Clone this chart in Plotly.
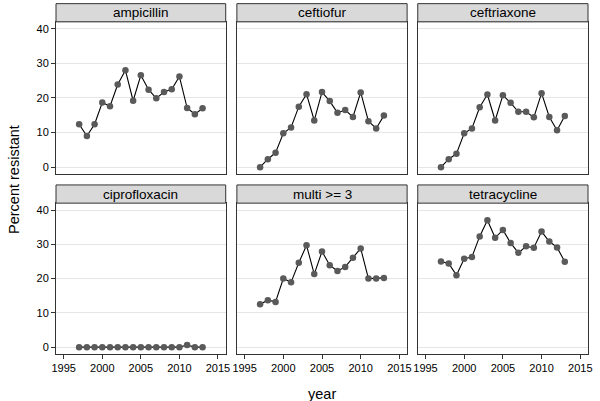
import plotly.graph_objects as go

years = list(range(1997, 2014))

ampicillin = [12.4, 9.0, 12.4, 18.7, 17.6, 23.9, 28.0, 19.2, 26.6, 22.4, 19.9, 21.7, 22.5, 26.2, 17.1, 15.3, 17.0]
ceftiofur = [0.0, 2.3, 4.2, 9.8, 11.5, 17.5, 21.1, 13.5, 21.7, 19.1, 15.7, 16.5, 14.5, 21.6, 13.3, 11.2, 14.9]
ceftriaxone = [0.0, 2.3, 3.9, 9.8, 11.2, 17.3, 21.0, 13.5, 20.8, 18.6, 16.0, 16.0, 14.4, 21.4, 14.5, 10.7, 14.8]
ciprofloxacin = [0.0, 0.0, 0.0, 0.0, 0.0, 0.0, 0.0, 0.0, 0.0, 0.0, 0.0, 0.0, 0.0, 0.0, 0.6, 0.0, 0.0]
multi3 = [12.5, 13.7, 13.2, 20.0, 18.9, 24.6, 29.7, 21.3, 27.9, 23.9, 22.2, 23.4, 26.1, 28.8, 20.0, 20.0, 20.2]
tetracycline = [25.0, 24.4, 21.0, 25.8, 26.3, 32.3, 37.0, 31.9, 34.2, 30.4, 27.5, 29.4, 29.0, 33.7, 30.8, 29.1, 24.9]

panel_names = ["ampicillin", "ceftiofur", "ceftriaxone", "ciprofloxacin", "multi >= 3", "tetracycline"]
panel_values = [ampicillin, ceftiofur, ceftriaxone, ciprofloxacin, multi3, tetracycline]

x_ticks = [1995, 2000, 2005, 2010, 2015]
y_ticks = [0, 10, 20, 30, 40]

# panel positions in paper coords (facet_wrap-like 2x3 grid)
col_domains = [[0.0, 0.319], [0.340, 0.660], [0.680, 1.0]]
row_domains = [[0.514, 0.949], [0.0, 0.431]]
strip_h = 0.052

fig = go.Figure()
layout = {}
shapes = []
annotations = []

for i, (name, vals) in enumerate(zip(panel_names, panel_values)):
    r, c = divmod(i, 3)
    n = i + 1
    xa = "x" if n == 1 else f"x{n}"
    ya = "y" if n == 1 else f"y{n}"
    fig.add_trace(go.Scatter(
        x=years, y=vals, xaxis=xa, yaxis=ya,
        mode="lines+markers",
        line=dict(color="black", width=1.1),
        marker=dict(color="#5a5a5a", size=6.5),
        showlegend=False,
    ))
    common = dict(showline=True, mirror=True, linecolor="#333333", linewidth=1,
                  ticklen=4, tickcolor="#333333", zeroline=False,
                  tickfont=dict(family="Liberation Sans, Arial", size=11, color="black"))
    layout[f"xaxis{'' if n == 1 else n}"] = dict(
        domain=col_domains[c], anchor=ya, range=[1994, 2016],
        tickvals=x_ticks, showgrid=False,
        showticklabels=(r == 1), ticks="outside" if r == 1 else "",
        **common)
    layout[f"yaxis{'' if n == 1 else n}"] = dict(
        domain=row_domains[r], anchor=xa, range=[-2, 42],
        tickvals=y_ticks, showgrid=True, gridcolor="#e6e6e6", gridwidth=1,
        showticklabels=(c == 0), ticks="outside" if c == 0 else "",
        **common)
    # facet strip
    y0 = row_domains[r][1]
    shapes.append(dict(type="rect", xref="paper", yref="paper",
                       x0=col_domains[c][0], x1=col_domains[c][1],
                       y0=y0, y1=y0 + strip_h,
                       fillcolor="#d9d9d9", line=dict(color="#333333", width=1)))
    annotations.append(dict(text=name, xref="paper", yref="paper",
                            x=sum(col_domains[c]) / 2, y=y0 + strip_h / 2,
                            showarrow=False, xanchor="center", yanchor="middle",
                            font=dict(family="Liberation Sans, Arial", size=13.5, color="black")))

annotations.append(dict(text="year", xref="paper", yref="paper", x=0.5, y=-0.085,
                        showarrow=False, xanchor="center", yanchor="top",
                        font=dict(family="Liberation Sans, Arial", size=14.5, color="black")))
annotations.append(dict(text="Percent resistant", xref="paper", yref="paper", x=-0.079, y=0.5,
                        showarrow=False, textangle=-90, xanchor="center", yanchor="middle",
                        font=dict(family="Liberation Sans, Arial", size=14.5, color="black")))

fig.update_layout(
    width=600, height=401,
    margin=dict(l=56, r=12, t=4, b=47),
    plot_bgcolor="white", paper_bgcolor="white",
    shapes=shapes, annotations=annotations,
    **layout,
)

fig.write_html("out.html", config={"displayModeBar": False},
               post_script="document.body.style.margin='0';")
